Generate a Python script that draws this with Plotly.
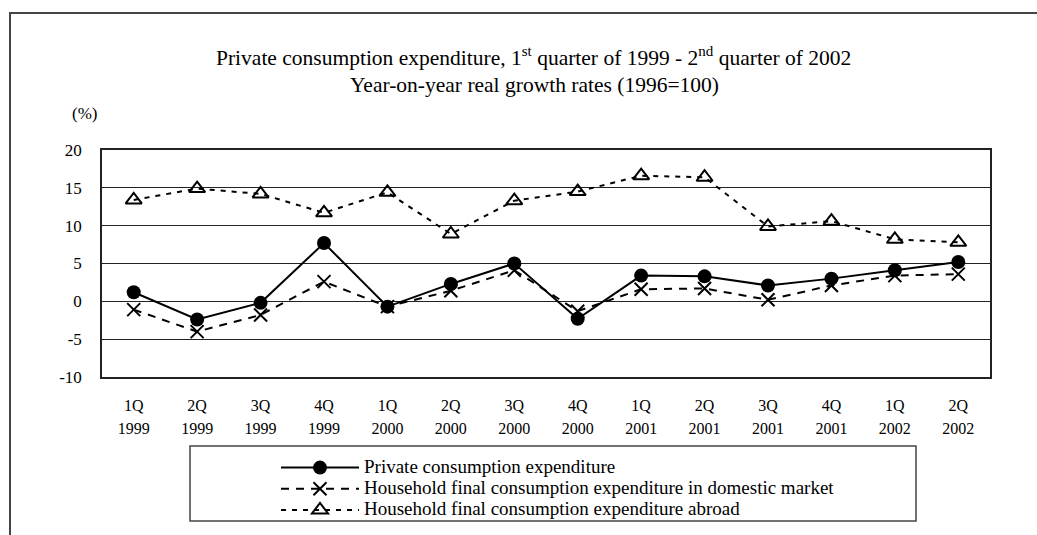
import plotly.graph_objects as go

quarters = ["1Q", "2Q", "3Q", "4Q", "1Q", "2Q", "3Q", "4Q", "1Q", "2Q", "3Q", "4Q", "1Q", "2Q"]
years = ["1999", "1999", "1999", "1999", "2000", "2000", "2000", "2000",
         "2001", "2001", "2001", "2001", "2002", "2002"]
categories = [f"{q} {y}" for q, y in zip(quarters, years)]

series_names = [
    "Private consumption expenditure",
    "Household final consumption expenditure in domestic market",
    "Household final consumption expenditure abroad",
]
private_consumption = [1.2, -2.4, -0.2, 7.7, -0.7, 2.3, 5.0, -2.3, 3.4, 3.3, 2.1, 3.0, 4.1, 5.2]
domestic_market = [-1.1, -4.0, -1.8, 2.6, -0.7, 1.4, 4.1, -1.3, 1.6, 1.7, 0.2, 2.1, 3.4, 3.6]
abroad = [13.4, 14.9, 14.2, 11.7, 14.4, 8.9, 13.3, 14.5, 16.6, 16.4, 9.9, 10.6, 8.2, 7.8]

y_ticks = [-10, -5, 0, 5, 10, 15, 20]
y_tick_labels = ["-10", "-5", "0", "5", "10", "15", "20"]

FONT = "Liberation Serif"


def sized(text, size):
    return f"<span style='font-size:{size}px'>{text}</span>"


tick_labels = [f"{sized(q, 16)}<br>{sized(y, 16)}" for q, y in zip(quarters, years)]

fig = go.Figure()
fig.add_trace(go.Scatter(
    x=categories, y=private_consumption, mode="lines+markers",
    name=sized(series_names[0], 19),
    line=dict(color="black", width=2),
    marker=dict(symbol="circle", size=14, color="black"),
))
fig.add_trace(go.Scatter(
    x=categories, y=domestic_market, mode="lines+markers",
    name=sized(series_names[1], 19),
    line=dict(color="black", width=2, dash="8px,7px"),
    marker=dict(symbol="x-thin", size=13, color="black", line=dict(width=2, color="black")),
))
fig.add_trace(go.Scatter(
    x=categories, y=abroad, mode="lines+markers",
    name=sized(series_names[2], 19),
    line=dict(color="black", width=2, dash="5px,6px"),
    marker=dict(symbol="triangle-up-open", size=14, color="black", line=dict(width=2, color="black")),
))

L, R, T, B = 102, 47, 150, 158
W, H = 1037, 535
PW, PH = W - L - R, H - T - B


def px(x):
    return (x - L) / PW


def py(y):
    return (H - B - y) / PH


fig.update_layout(
    width=W, height=H,
    margin=dict(l=L, r=R, t=T, b=B, autoexpand=False),
    paper_bgcolor="white", plot_bgcolor="white",
    font=dict(family=FONT, color="black", size=16),
    showlegend=True,
    legend=dict(
        x=px(276), y=py(452), xanchor="left", yanchor="top",
        font=dict(family=FONT, size=14, color="black"),
        itemwidth=78, bgcolor="rgba(0,0,0,0)", borderwidth=0,
        tracegroupgap=0,
    ),
    xaxis=dict(
        type="category", categoryorder="array", categoryarray=categories,
        tickmode="array", tickvals=categories, ticktext=tick_labels,
        range=[-0.5, len(categories) - 0.5],
        showgrid=False, showline=True, mirror=True, linecolor="#222", linewidth=1.5,
        ticks="", ticklabelstandoff=11,
        tickfont=dict(family=FONT, size=17.7, color="black"),
    ),
    yaxis=dict(
        range=[-10, 20], tickmode="array", tickvals=y_ticks, ticktext=y_tick_labels,
        showgrid=True, gridcolor="#222", gridwidth=1,
        zeroline=True, zerolinecolor="#222", zerolinewidth=1,
        showline=True, mirror=True, linecolor="#222", linewidth=1.5,
        ticks="", ticklabelstandoff=15,
        tickfont=dict(family=FONT, size=17, color="black"),
    ),
    shapes=[
        dict(type="rect", xref="paper", yref="paper",
             x0=px(10), x1=px(1045), y0=py(560), y1=py(13),
             line=dict(color="#444", width=2), fillcolor="rgba(0,0,0,0)", layer="below"),
        dict(type="rect", xref="paper", yref="paper",
             x0=px(190), x1=px(916), y0=py(521), y1=py(446),
             line=dict(color="#444", width=1.5), fillcolor="rgba(0,0,0,0)"),
    ],
    annotations=[
        dict(text="Private consumption expenditure, 1<sup>st</sup> quarter of 1999 - 2<sup>nd</sup> quarter of 2002",
             xref="paper", yref="paper", x=px(533.5), y=py(57), xanchor="center", yanchor="middle",
             showarrow=False, font=dict(family=FONT, size=21.5, color="black")),
        dict(text="Year-on-year real growth rates (1996=100)",
             xref="paper", yref="paper", x=px(534), y=py(85), xanchor="center", yanchor="middle",
             showarrow=False, font=dict(family=FONT, size=21.5, color="black")),
        dict(text="(%)", xref="paper", yref="paper", x=px(84), y=py(113),
             xanchor="center", yanchor="middle", showarrow=False,
             font=dict(family=FONT, size=17, color="black")),
    ],
)

fig.write_html("out.html", config={"displayModeBar": False},
               post_script="document.body.style.margin='0';")
